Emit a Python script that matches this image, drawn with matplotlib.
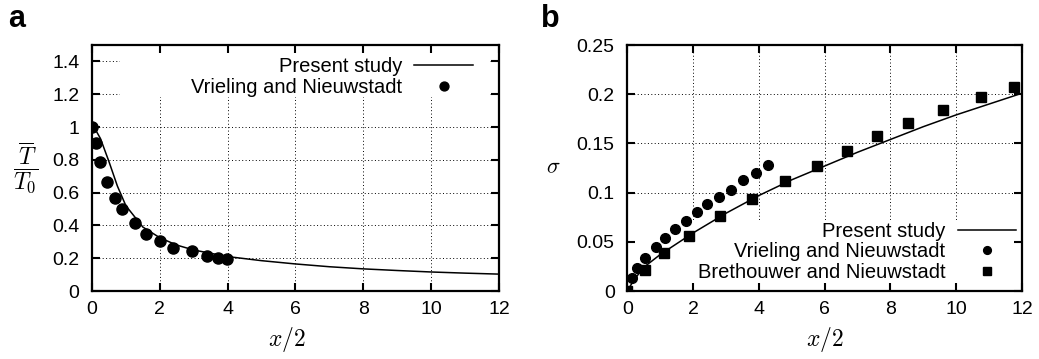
"""Mean temperature decay and plume width versus distance (two panels)."""

import matplotlib

matplotlib.use("Agg")
import matplotlib.pyplot as plt
from matplotlib.patches import Rectangle

plt.rcParams["font.family"] = ["Liberation Sans", "DejaVu Sans"]
plt.rcParams["mathtext.fontset"] = "cm"

# Panel a: mean temperature ratio
a_line_x = [0, 0.1, 0.25, 0.5, 0.75, 1, 1.5, 2, 2.5, 3, 4, 5, 6, 7, 8, 9, 10, 11, 12]
a_line_y = [1.0, 0.985, 0.93, 0.79, 0.64, 0.52, 0.39, 0.325, 0.28, 0.25, 0.21,
            0.185, 0.165, 0.148, 0.135, 0.125, 0.116, 0.109, 0.103]
a_vn_x = [0.0, 0.13, 0.25, 0.44, 0.67, 0.9, 1.26, 1.6, 2.0, 2.4, 2.96, 3.38, 3.72, 3.97]
a_vn_y = [1.0, 0.905, 0.785, 0.663, 0.569, 0.498, 0.417, 0.35, 0.307, 0.264,
          0.244, 0.213, 0.199, 0.193]

# Panel b: sigma
b_line_x = [0, 0.2, 0.5, 1, 2, 3, 4, 5, 6, 7, 8, 9, 10, 11, 12]
b_line_y = [0, 0.011, 0.024, 0.037, 0.059, 0.079, 0.097, 0.113, 0.127, 0.141,
            0.154, 0.167, 0.179, 0.19, 0.201]
b_vn_x = [0.13, 0.30, 0.54, 0.86, 1.16, 1.46, 1.80, 2.13, 2.43, 2.78, 3.14, 3.52, 3.92, 4.29]
b_vn_y = [0.0129, 0.0237, 0.0332, 0.0444, 0.0542, 0.0627, 0.0715, 0.080, 0.0884,
          0.0955, 0.1026, 0.1125, 0.120, 0.1277]
b_bn_x = [0.0, 0.54, 1.13, 1.87, 2.82, 3.80, 4.81, 5.76, 6.69, 7.60, 8.55, 9.61, 10.75, 11.77]
b_bn_y = [0.0, 0.0213, 0.0383, 0.0559, 0.0762, 0.0935, 0.1118, 0.127, 0.1426,
          0.1575, 0.1707, 0.1843, 0.1975, 0.2077]

x_ticks = [0, 2, 4, 6, 8, 10, 12]
a_y_ticks = [0, 0.2, 0.4, 0.6, 0.8, 1.0, 1.2, 1.4]
a_y_labels = ["0", "0.2", "0.4", "0.6", "0.8", "1", "1.2", "1.4"]
b_y_ticks = [0, 0.05, 0.1, 0.15, 0.2, 0.25]
b_y_labels = ["0", "0.05", "0.1", "0.15", "0.2", "0.25"]

fig = plt.figure(figsize=(10.39, 3.59), dpi=100)
ax_a = fig.add_axes([0.0885, 0.1894, 0.3917, 0.6852])
ax_b = fig.add_axes([0.6037, 0.1894, 0.3799, 0.6852])

LEG_KW = dict(frameon=False, markerfirst=False, fontsize=14.5, handlelength=2.9,
              borderaxespad=0, borderpad=0, labelspacing=0.08, handletextpad=0.6,
              markerscale=0.8)


def style_axes(ax, yticks, ylabels, ymax, key_box):
    ax.set_xlim(0, 12)
    ax.set_ylim(0, ymax)
    ax.set_xticks(x_ticks)
    ax.set_xticklabels([str(t) for t in x_ticks])
    ax.set_yticks(yticks)
    ax.set_yticklabels(ylabels)
    ax.tick_params(direction="in", length=6, width=1.5, labelsize=14,
                   top=True, right=True)
    ax.tick_params(axis="x", pad=7.5)
    ax.tick_params(axis="y", pad=9)
    for s in ax.spines.values():
        s.set_linewidth(1.6)
    # dotted grid drawn below a white key box, ticks stay on top
    for t in x_ticks:
        ax.axvline(t, color="k", lw=0.7, ls=(0, (1, 2.5)), zorder=0.5)
    for t in yticks:
        ax.axhline(t, color="k", lw=0.7, ls=(0, (1, 2.5)), zorder=0.5)
    x0, y0, x1, y1 = key_box
    ax.add_patch(Rectangle((x0, y0), x1 - x0, y1 - y0, facecolor="white",
                           edgecolor="none", zorder=1))
    ax.set_xlabel("$x/2$", fontsize=17, labelpad=5)


# Panel a
style_axes(ax_a, a_y_ticks, a_y_labels, 1.5, (0.83, 1.185, 11.75, 1.5))
ax_a.plot(a_line_x, a_line_y, color="k", lw=1.1, zorder=3, label="Present study")
ax_a.plot(a_vn_x, a_vn_y, "o", color="k", ms=8, zorder=3,
          label="Vrieling and Nieuwstadt")
ax_a.set_ylabel(r"$\dfrac{\overline{T}}{T_0}$", fontsize=17, rotation=0,
                labelpad=19, va="center")
ax_a.xaxis.label.set_x(0.478)
ax_a.legend(loc="upper right", bbox_to_anchor=(0.936, 0.951), **LEG_KW)

# Panel b
style_axes(ax_b, b_y_ticks, b_y_labels, 0.25, (0.25, 0.0, 11.75, 0.072))
ax_b.plot(b_line_x, b_line_y, color="k", lw=1.1, zorder=3, label="Present study")
ax_b.plot(b_vn_x, b_vn_y, "o", color="k", ms=7, zorder=3,
          label="Vrieling and Nieuwstadt")
ax_b.plot(b_bn_x, b_bn_y, "s", color="k", ms=7.5, zorder=3,
          label="Brethouwer and Nieuwstadt")
ax_b.set_ylabel(r"$\sigma$", fontsize=16, rotation=0, labelpad=17, va="center")
ax_b.legend(loc="lower right", bbox_to_anchor=(0.985, 0.037), **LEG_KW)

fig.text(0.008, 0.925, "a", fontsize=22, fontweight="bold", va="baseline")
fig.text(0.521, 0.925, "b", fontsize=22, fontweight="bold", va="baseline")

fig.savefig("out.png", dpi=100)
